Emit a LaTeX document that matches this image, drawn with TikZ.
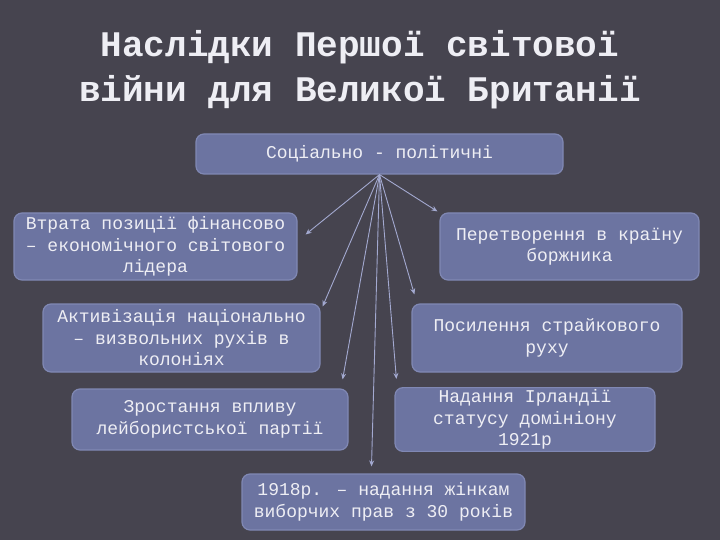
\documentclass[tikz,border=0pt]{standalone}
\usepackage{fontspec}
\usepackage{tikz}
\usetikzlibrary{arrows.meta}
\newfontfamily\cour{Liberation Mono}
\definecolor{slidebg}{HTML}{46444F}
\definecolor{boxfill}{HTML}{6C74A1}
\definecolor{boxedge}{HTML}{8088B4}
\definecolor{arrline}{HTML}{A3A9D0}
\definecolor{lighttext}{HTML}{EEEEF4}

\begin{document}
\begin{tikzpicture}[x=1pt, y=-1pt,
  ttl/.style={text=lighttext, align=center, font=\cour\bfseries\fontsize{36}{45}\selectfont},
  box/.style={draw=boxedge, line width=1.2pt, rounded corners=8pt, fill=boxfill, text=lighttext, align=center, inner sep=2pt, font=\cour\fontsize{18}{21.5}\selectfont},
  arr/.style={-{Stealth[length=6pt,width=5pt]}, line width=0.9pt, color=arrline},
]
\fill[slidebg] (0,0) rectangle (720,540);

\node[ttl] (title) at (360,70) {Наслідки Першої світової\\війни для Великої Британії};

\node[box, minimum width=367pt, minimum height=40pt] (soc) at (379.5,154) {Соціально - політичні};

\node[box, minimum width=283pt, minimum height=67pt] (fin) at (155.5,246.5) {Втрата позиції фінансово\\– економічного світового\\лідера};
\node[box, minimum width=259pt, minimum height=67pt] (debt) at (569.5,246.5) {Перетворення в країну\\боржника};
\node[box, minimum width=277pt, minimum height=68pt] (colon) at (181.5,338) {Активізація національно\\– визвольних рухів в\\колоніях};
\node[box, minimum width=270pt, minimum height=68pt] (strike) at (547,338) {Посилення страйкового\\руху};
\node[box, minimum width=276pt, minimum height=61pt] (labour) at (210,419.5) {Зростання впливу\\лейбористської партії};
\node[box, minimum width=260pt, minimum height=61pt] (irel) at (525,419.5) {Надання Ірландії\\статусу домініону\\1921р};
\node[box, minimum width=283pt, minimum height=56pt] (women) at (383.5,502) {1918р. – надання жінкам\\виборчих прав з 30 років};

\draw[arr] (soc.south) -- ([shift={(8,-12)}]fin.east);
\draw[arr] (soc.south) -- ([shift={(-2,-1)}]debt.north west);
\draw[arr] (soc.south) -- ([shift={(2,3)}]colon.north east);
\draw[arr] (soc.south) -- ([shift={(3,-9)}]strike.north west);
\draw[arr] (soc.south) -- ([shift={(-6,-9)}]labour.north east);
\draw[arr] (soc.south) -- ([shift={(2,-8)}]irel.north west);
\draw[arr] (soc.south) -- ([shift={(-12,-7)}]women.north);

\end{tikzpicture}
\end{document}
